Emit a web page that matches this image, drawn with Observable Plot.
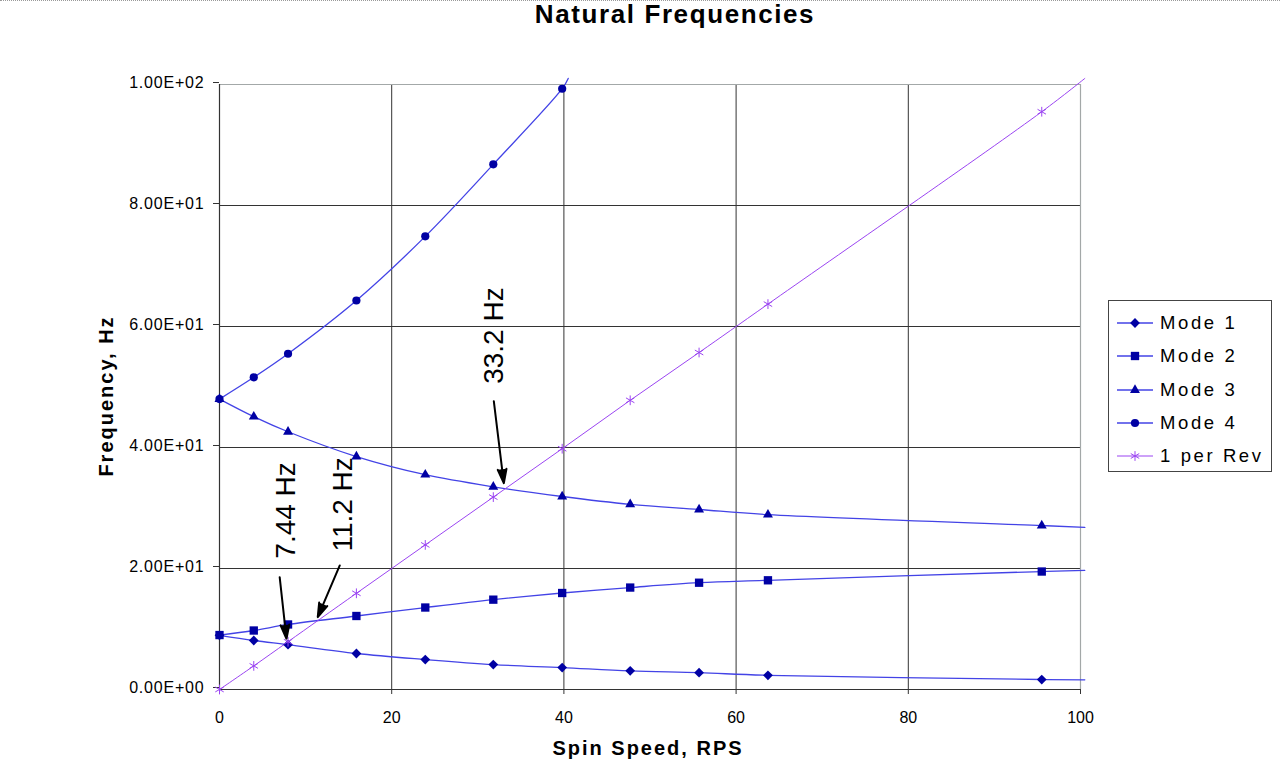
<!DOCTYPE html>
<html>
<head>
<meta charset="utf-8">
<script src="https://cdn.jsdelivr.net/npm/d3@7"></script>
<script src="https://cdn.jsdelivr.net/npm/@observablehq/plot@0.6"></script>
<style>
  body { margin: 0; background: #fff; font-family: "Liberation Sans", Arial, sans-serif; }
  #wrap { position: relative; width: 1280px; height: 773px; overflow: hidden; background: #fff; }
  #topline { position: absolute; left: 0; top: 0; width: 1280px; border-top: 1px dotted #9a9a9a; }
  .lbl { position: absolute; white-space: nowrap; font-weight: bold; color: #000; }
  #title { left: 675px; top: 1px; font-size: 26px; line-height: 26px; letter-spacing: 1.6px; transform: translateX(-50%); }
  #xtitle { left: 648px; top: 738px; font-size: 20px; line-height: 20px; letter-spacing: 2px; transform: translateX(-50%); }
  #ytitle { left: 106px; top: 396px; font-size: 20px; line-height: 20px; letter-spacing: 2px; transform: translate(-50%, -50%) rotate(-90deg); }
  #legend { position: absolute; left: 1108px; top: 300px; width: 164px; height: 172px; box-sizing: border-box; border: 1px solid #444; background: #fff; }
  .lrow { position: absolute; left: 0; height: 20px; }
  .lrow svg { position: absolute; left: 0; top: 0; }
  .lrow span { position: absolute; left: 51px; top: 0; font-size: 18.5px; line-height: 20px; letter-spacing: 2.6px; white-space: nowrap; color: #000; }
  #chart g[aria-label="y-axis tick label"] { letter-spacing: 0.8px; }
</style>
</head>
<body>
<div id="wrap">
  <div id="chart"></div>
  <div id="topline"></div>
  <div class="lbl" id="title">Natural Frequencies</div>
  <div class="lbl" id="xtitle">Spin Speed, RPS</div>
  <div class="lbl" id="ytitle">Frequency, Hz</div>
  <div id="legend"></div>
</div>
<script>
// ---- Data ----
const seriesNames = ["Mode 1", "Mode 2", "Mode 3", "Mode 4", "1 per Rev"];

// spin speed (RPS) of the computed points
const speed = [0, 3.98, 7.96, 15.9, 23.9, 31.8, 39.8, 47.7, 55.7, 63.7, 95.5];

// natural frequencies (Hz)
const mode1 = [8.95, 8.1, 7.4, 5.95, 4.95, 4.12, 3.62, 3.08, 2.78, 2.35, 1.65];
const mode2 = [9.0, 9.75, 10.75, 12.15, 13.55, 14.85, 15.95, 16.85, 17.65, 18.05, 19.5];
const mode3 = [48.0, 45.1, 42.6, 38.5, 35.5, 33.5, 31.9, 30.6, 29.75, 28.9, 27.1];
const mode4 = [48.0, 51.6, 55.5, 64.3, 74.9, 86.8, 99.3];
const perRev = [0, 3.9, 7.9, 15.9, 23.9, 31.8, 39.8, 47.8, 55.7, 63.7, 95.5];

// where each drawn line runs on past its last point
const lineEndX = [100.5, 100.5, 100.5, 40.5, 100.5];
const lineEndY = [1.6, 19.7, 26.8, 101.0, 101.0];

// axis ticks
const xTicks = [0, 20, 40, 60, 80, 100];
const yTicks = [0, 20, 40, 60, 80, 100];

// annotations
const annoLabel = ["7.44 Hz", "11.2 Hz", "33.2 Hz"];
const annoX = [7.67, 14.34, 31.86];
const annoY = [29.6, 30.6, 58.5];
const arrowX1 = [6.99, 13.97, 31.86];
const arrowY1 = [18.56, 20.5, 47.65];
const arrowX2 = [7.78, 11.41, 33.02];
const arrowY2 = [8.38, 11.95, 34.1];

// ---- Build tables ----
const seriesValues = [mode1, mode2, mode3, mode4, perRev];
const points = [];
const lines = [];
seriesNames.forEach((name, s) => {
  seriesValues[s].forEach((v, i) => {
    points.push({series: name, x: speed[i], y: v});
    lines.push({series: name, x: speed[i], y: v});
  });
  lines.push({series: name, x: lineEndX[s], y: lineEndY[s]});
});

const modeLine = "#4343e6";
const modeMark = "#0000a3";
const revColor = "#9b45f2";
const style = [
  {symbol: "diamond2", r: 4.4, fill: modeMark, stroke: "none", line: modeLine},
  {symbol: "square", r: 4.7, fill: modeMark, stroke: "none", line: modeLine},
  {symbol: "triangle", r: 3.7, fill: modeMark, stroke: "none", line: modeLine},
  {symbol: "circle", r: 4.1, fill: modeMark, stroke: "none", line: modeLine},
  {symbol: "asterisk", r: 4.6, fill: "none", stroke: revColor, line: revColor}
];

const fmtE = d => {
  if (d === 0) return "0.00E+00";
  const e = Math.floor(Math.log10(Math.abs(d)));
  const m = d / Math.pow(10, e);
  return m.toFixed(2) + "E" + (e < 0 ? "-" : "+") + String(Math.abs(e)).padStart(2, "0");
};

const marks = [
  Plot.gridX({ticks: [20, 40, 60, 80], stroke: "#333", strokeOpacity: 1, strokeWidth: 1}),
  Plot.gridY({ticks: [20, 40, 60, 80], stroke: "#333", strokeOpacity: 1, strokeWidth: 1}),
  Plot.ruleY([100], {stroke: "#a3a8a8", strokeWidth: 1.2}),
  Plot.ruleX([100], {stroke: "#a3a8a8", strokeWidth: 1.2}),
  Plot.ruleX([0], {stroke: "#333", strokeWidth: 1.2}),
  Plot.ruleY([0], {stroke: "#333", strokeWidth: 1.2}),
  Plot.axisX({ticks: xTicks, tickSize: 5, tickPadding: 17, label: null, fontSize: 16, stroke: "#333"}),
  Plot.axisY({ticks: yTicks, tickSize: 6, tickPadding: 9, label: null, fontSize: 16, tickFormat: fmtE, dy: -2, stroke: "#333"})
];
seriesNames.forEach((name, s) => {
  marks.push(Plot.line(lines.filter(d => d.series === name), {
    x: "x", y: "y", stroke: style[s].line, strokeWidth: s === 4 ? 1 : 1.3, curve: "catmull-rom"
  }));
});
seriesNames.forEach((name, s) => {
  marks.push(Plot.dot(points.filter(d => d.series === name), {
    x: "x", y: "y", symbol: style[s].symbol, r: style[s].r,
    fill: style[s].fill, stroke: style[s].stroke, strokeWidth: 1
  }));
});
marks.push(Plot.arrow(annoLabel, {
  x1: arrowX1, y1: arrowY1, x2: arrowX2, y2: arrowY2,
  stroke: "#000", fill: "#000", strokeWidth: 2, headLength: 11, headAngle: 35
}));
marks.push(Plot.text(annoLabel, {
  x: annoX, y: annoY, text: d => d, rotate: -90, fontSize: 28, fill: "#000"
}));

const chart = Plot.plot({
  width: 1280,
  height: 773,
  marginLeft: 219,
  marginRight: 200,
  marginTop: 84,
  marginBottom: 84,
  style: {fontFamily: "'Liberation Sans', Arial, sans-serif", background: "#fff", color: "#000", overflow: "visible"},
  x: {domain: [0, 100]},
  y: {domain: [0, 100]},
  marks
});
document.getElementById("chart").appendChild(chart);

// ---- Legend ----
const legend = document.getElementById("legend");
const symMap = {diamond2: d3.symbolDiamond2, square: d3.symbolSquare, triangle: d3.symbolTriangle, circle: d3.symbolCircle, asterisk: d3.symbolAsterisk};
seriesNames.forEach((name, s) => {
  const row = document.createElement("div");
  row.className = "lrow";
  row.style.top = (12 + s * 33.3) + "px";
  row.style.width = "160px";
  const svg = d3.create("svg").attr("width", 50).attr("height", 20);
  svg.append("line").attr("x1", 8).attr("x2", 44).attr("y1", 10).attr("y2", 10)
    .attr("stroke", style[s].line).attr("stroke-width", s === 4 ? 1 : 1.3);
  svg.append("path")
    .attr("transform", "translate(26,10)")
    .attr("d", d3.symbol(symMap[style[s].symbol], Math.PI * style[s].r * style[s].r)())
    .attr("fill", style[s].fill).attr("stroke", style[s].stroke).attr("stroke-width", 1);
  row.appendChild(svg.node());
  const span = document.createElement("span");
  span.textContent = name;
  row.appendChild(span);
  legend.appendChild(row);
});
</script>
</body>
</html>
